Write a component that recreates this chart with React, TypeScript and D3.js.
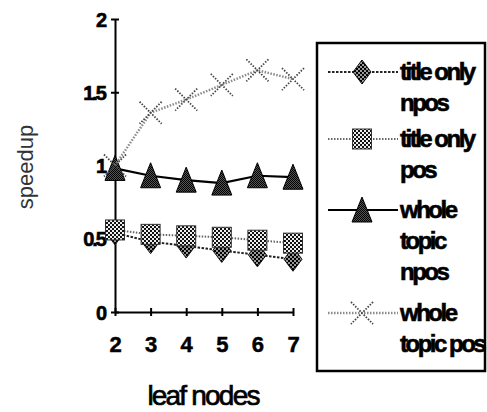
import * as d3 from "d3";
import { useEffect, useRef } from "react";

const width = 487;
const height = 412;

const leafNodes = [2, 3, 4, 5, 6, 7];
const yTicks = [0, 0.5, 1, 1.5, 2];
const yTickLabels = ["0", "0.5", "1", "1.5", "2"];

const titleOnlyNpos = [0.54, 0.48, 0.45, 0.42, 0.39, 0.36];
const titleOnlyPos = [0.56, 0.53, 0.52, 0.51, 0.49, 0.47];
const wholeTopicNpos = [0.98, 0.93, 0.9, 0.88, 0.93, 0.92];
const wholeTopicPos = [1.0, 1.36, 1.45, 1.55, 1.65, 1.59];

const legendLabels = [
  ["title only", "npos"],
  ["title only", "pos"],
  ["whole", "topic", "npos"],
  ["whole", "topic pos"],
];

const series = [
  { key: "tonpos", values: titleOnlyNpos, marker: "diamond", stroke: "#222", dash: "2.5,1.5", strokeWidth: 2 },
  { key: "topos", values: titleOnlyPos, marker: "square", stroke: "#666", dash: "1.5,1.5", strokeWidth: 2 },
  { key: "wtnpos", values: wholeTopicNpos, marker: "triangle", stroke: "#000", dash: null, strokeWidth: 2.2 },
  { key: "wtpos", values: wholeTopicPos, marker: "cross", stroke: "#8a8a8a", dash: "1.5,1.5", strokeWidth: 2.5 },
];

const font = "Liberation Sans, Arial, sans-serif";

function drawMarker(g, type, x, y) {
  if (type === "diamond") {
    g.append("path")
      .attr("d", `M${x},${y - 12}L${x + 9},${y}L${x},${y + 12}L${x - 9},${y}Z`)
      .attr("fill", "url(#checkDark)")
      .attr("stroke", "#111")
      .attr("stroke-width", 1);
  } else if (type === "square") {
    g.append("rect")
      .attr("x", x - 9.5)
      .attr("y", y - 10)
      .attr("width", 19)
      .attr("height", 20)
      .attr("fill", "url(#checkLight)")
      .attr("stroke", "#333")
      .attr("stroke-width", 1);
  } else if (type === "triangle") {
    g.append("path")
      .attr("d", `M${x},${y - 13}L${x + 10},${y + 12}L${x - 10},${y + 12}Z`)
      .attr("fill", "url(#checkBlack)")
      .attr("stroke", "#000")
      .attr("stroke-width", 1);
  } else {
    g.append("path")
      .attr("d", `M${x - 11},${y - 11}L${x + 11},${y + 11}M${x + 11},${y - 11}L${x - 11},${y + 11}`)
      .attr("stroke", "#444")
      .attr("stroke-width", 1.8)
      .attr("stroke-dasharray", "1.5,1.5")
      .attr("fill", "none");
  }
}

export default function App() {
  const svgRef = useRef(null);

  useEffect(() => {
    const svg = d3.select(svgRef.current);
    svg.selectAll("*").remove();

    const defs = svg.append("defs");
    const makeChecker = (id, dark, light, size) => {
      const p = defs
        .append("pattern")
        .attr("id", id)
        .attr("patternUnits", "userSpaceOnUse")
        .attr("width", size * 2)
        .attr("height", size * 2);
      p.append("rect").attr("width", size * 2).attr("height", size * 2).attr("fill", light);
      p.append("rect").attr("width", size).attr("height", size).attr("fill", dark);
      p.append("rect").attr("x", size).attr("y", size).attr("width", size).attr("height", size).attr("fill", dark);
    };
    makeChecker("checkDark", "#000", "#999", 2);
    makeChecker("checkLight", "#111", "#eee", 2);
    makeChecker("checkBlack", "#000", "#555", 1);

    defs
      .append("clipPath")
      .attr("id", "plotClip")
      .append("rect")
      .attr("x", 0)
      .attr("y", 0)
      .attr("width", 305)
      .attr("height", height);

    const x = d3.scaleLinear().domain([2, 7]).range([115, 293]);
    const y = d3.scaleLinear().domain([0, 2]).range([312, 19]);

    // axes
    const yAxis = svg
      .append("g")
      .attr("transform", `translate(${x(2)},0)`)
      .call(
        d3
          .axisLeft(y)
          .tickValues(yTicks)
          .tickFormat((d, i) => yTickLabels[i])
          .tickSizeInner(4)
          .tickSizeOuter(0)
          .tickPadding(6),
      );
    yAxis.select(".domain").attr("stroke", "#000").attr("stroke-width", 2);
    yAxis.selectAll(".tick line").attr("x1", 4).attr("stroke", "#000").attr("stroke-width", 2);
    yAxis
      .selectAll(".tick text")
      .attr("font-family", font)
      .attr("font-weight", "bold")
      .attr("font-size", 20)
      .attr("letter-spacing", -2)
      .attr("dy", "0.36em")
      .attr("fill", "#000")
      .attr("stroke", "#000")
      .attr("stroke-width", 0.6);

    const xAxis = svg
      .append("g")
      .attr("transform", `translate(0,${y(0)})`)
      .call(d3.axisBottom(x).tickValues(leafNodes).tickFormat(d3.format("d")).tickSizeInner(4).tickSizeOuter(0).tickPadding(20));
    xAxis.select(".domain").attr("stroke", "#000").attr("stroke-width", 2);
    xAxis.selectAll(".tick line").attr("y1", -4).attr("stroke", "#000").attr("stroke-width", 2);
    xAxis
      .selectAll(".tick text")
      .attr("font-family", font)
      .attr("font-weight", "bold")
      .attr("font-size", 22)
      .attr("fill", "#000")
      .attr("stroke", "#000")
      .attr("stroke-width", 0.5);

    svg
      .append("text")
      .attr("x", 203)
      .attr("y", 405)
      .attr("text-anchor", "middle")
      .attr("font-family", font)
      .attr("font-size", 28)
      .attr("letter-spacing", -1.8)
      .attr("fill", "#000")
      .attr("stroke", "#000")
      .attr("stroke-width", 0.7)
      .text("leaf nodes");

    svg
      .append("text")
      .attr("transform", `translate(33,167) rotate(-90)`)
      .attr("text-anchor", "middle")
      .attr("font-family", font)
      .attr("font-size", 22)
      .attr("fill", "#333")
      .text("speedup");

    // series
    const plot = svg.append("g").attr("clip-path", "url(#plotClip)");
    const line = d3
      .line()
      .x((d, i) => x(leafNodes[i]))
      .y((d) => y(d));

    series.forEach((s) => {
      plot
        .append("path")
        .datum(s.values)
        .attr("d", line)
        .attr("fill", "none")
        .attr("stroke", s.stroke)
        .attr("stroke-width", s.strokeWidth)
        .attr("stroke-dasharray", s.dash);
      s.values.forEach((v, i) => drawMarker(plot, s.marker, x(leafNodes[i]), y(v)));
    });

    // legend
    const legend = svg.append("g");
    legend
      .append("rect")
      .attr("x", 317)
      .attr("y", 43)
      .attr("width", 168)
      .attr("height", 328)
      .attr("fill", "#fff")
      .attr("stroke", "#000")
      .attr("stroke-width", 2.5);

    const entryTops = [72, 139, 210, 313];
    const lineGap = 31;
    series.forEach((s, i) => {
      const cy = entryTops[i];
      legend
        .append("line")
        .attr("x1", 328)
        .attr("x2", 398)
        .attr("y1", cy)
        .attr("y2", cy)
        .attr("stroke", s.stroke)
        .attr("stroke-width", s.strokeWidth)
        .attr("stroke-dasharray", s.dash);
      drawMarker(legend, s.marker, 362, cy);
      legendLabels[i].forEach((t, j) => {
        legend
          .append("text")
          .attr("x", 400)
          .attr("y", cy + 8 + j * lineGap)
          .attr("font-family", font)
          .attr("font-weight", "bold")
          .attr("font-size", 24)
          .attr("letter-spacing", -2.5)
          .attr("fill", "#000")
          .attr("stroke", "#000")
          .attr("stroke-width", 0.6)
          .text(t);
      });
    });
  }, []);

  return (
    <svg
      ref={svgRef}
      width={width}
      height={height}
      style={{ position: "absolute", left: 0, top: 0, background: "#fff" }}
    ></svg>
  );
}
